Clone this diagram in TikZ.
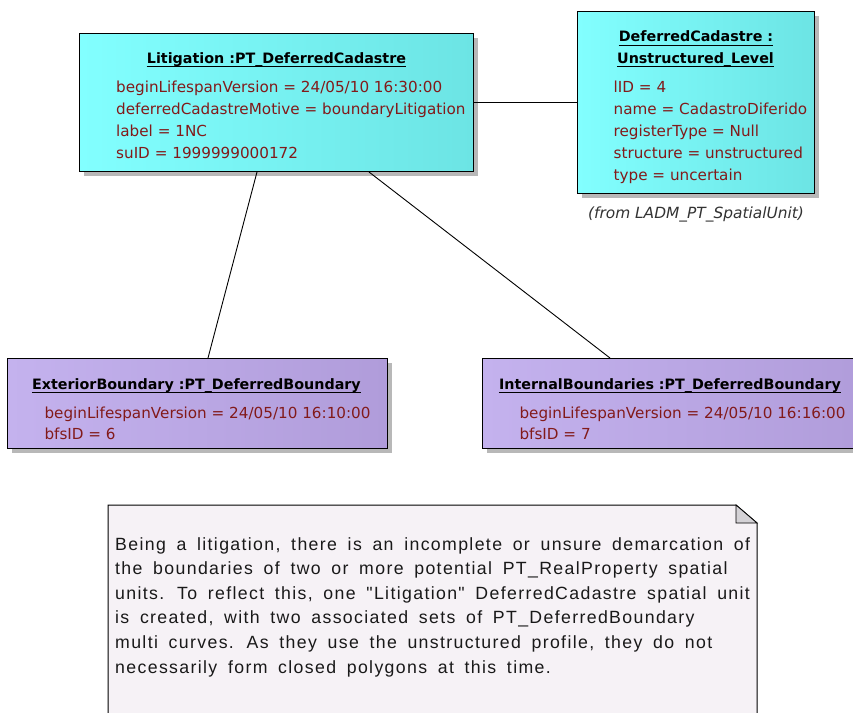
\documentclass[tikz,border=0pt]{standalone}
\usepackage{fontspec}
\usetikzlibrary{shadows}
\newfontfamily\boxfont{DejaVu Sans}
\newfontfamily\notefont[LetterSpace=7.7, WordSpace=1.7]{Liberation Sans}
\definecolor{cyanL}{RGB}{130,255,255}
\definecolor{cyanR}{RGB}{108,228,228}
\definecolor{purL}{RGB}{196,178,238}
\definecolor{purR}{RGB}{176,156,218}
\definecolor{attr}{RGB}{130,26,26}
\definecolor{notefill}{RGB}{246,242,246}
\definecolor{foldfill}{RGB}{212,210,214}
\tikzset{
  x=1pt, y=-1pt,
  umlbox/.style={draw=black, line width=1pt, rectangle, anchor=north west, inner sep=0pt,
    drop shadow={shadow xshift=4pt, shadow yshift=-4pt, fill=black!28, opacity=1}},
  cbox/.style={umlbox, left color=cyanL, right color=cyanR},
  pbox/.style={umlbox, left color=purL, right color=purR},
  ttl/.style={inner sep=0pt, anchor=base, font=\boxfont\bfseries\fontsize{14.3}{16}\selectfont, text=black},
  att/.style={inner sep=0pt, anchor=base west, font=\boxfont\fontsize{15.2}{18}\selectfont, text=attr},
  ntxt/.style={inner sep=0pt, anchor=base west, font=\notefont\fontsize{17.7}{20}\selectfont, text=black!90},
  conn/.style={draw=black, line width=0.9pt},
  uline/.style={draw=black, line width=1pt}
}
\begin{document}
\begin{tikzpicture}
\clip (0,0) rectangle (853,712);
\fill[white] (0,0) rectangle (853,712);
% boxes
\node[cbox, minimum width=394pt, minimum height=138pt] (lit) at (79,33) {};
\node[cbox, minimum width=237pt, minimum height=182pt] (dc) at (577,11) {};
\node[pbox, minimum width=380pt, minimum height=90pt] (ext) at (7,358) {};
\node[pbox, minimum width=388pt, minimum height=90pt] (int) at (482,358) {};
% connectors
\draw[conn] (lit.east) -- (dc.west);
\draw[conn] ([xshift=178pt]lit.south west) -- ([xshift=201pt]ext.north west);
\draw[conn] ([xshift=290pt]lit.south west) -- ([xshift=128pt]int.north west);
% Litigation
\node[ttl] (litT) at (276.5,63) {Litigation :PT\_DeferredCadastre};
\draw[uline] ([yshift=-3.6pt]litT.base west) -- ([yshift=-3.6pt]litT.base east);
\node[att] (litA1) at (116,92.5) {beginLifespanVersion = 24/05/10 16:30:00};
\node[att] (litA2) at (116,114.3) {deferredCadastreMotive = boundaryLitigation};
\node[att] (litA3) at (116,136.2) {label = 1NC};
\node[att] (litA4) at (116,158) {suID = 1999999000172};
% DeferredCadastre
\node[ttl] (dcT1) at (696,41.7) {DeferredCadastre :};
\draw[uline] ([yshift=-3.6pt]dcT1.base west) -- ([yshift=-3.6pt]dcT1.base east);
\node[ttl] (dcT2) at (695.5,63.3) {Unstructured\_Level};
\draw[uline] ([yshift=-3.6pt]dcT2.base west) -- ([yshift=-3.6pt]dcT2.base east);
\node[att] (dcA1) at (613.5,92.3) {lID = 4};
\node[att] (dcA2) at (613.5,114.3) {name = CadastroDiferido};
\node[att] (dcA3) at (613.5,136.3) {registerType = Null};
\node[att] (dcA4) at (613.5,158.3) {structure = unstructured};
\node[att] (dcA5) at (613.5,180) {type = uncertain};
\node[inner sep=0pt, anchor=base, font=\boxfont\itshape\fontsize{15.4}{18}\selectfont, text=black!80] (dcFrom) at (696,218) {(from LADM\_PT\_SpatialUnit)};
% ExteriorBoundary
\node[ttl] (extT) at (196.5,389.3) {ExteriorBoundary :PT\_DeferredBoundary};
\draw[uline] ([yshift=-3.6pt]extT.base west) -- ([yshift=-3.6pt]extT.base east);
\node[att] (extA1) at (44.3,418.3) {beginLifespanVersion = 24/05/10 16:10:00};
\node[att] (extA2) at (44.3,439.5) {bfsID = 6};
% InternalBoundaries
\node[ttl] (intT) at (670,389.3) {InternalBoundaries :PT\_DeferredBoundary};
\draw[uline] ([yshift=-3.6pt]intT.base west) -- ([yshift=-3.6pt]intT.base east);
\node[att] (intA1) at (519.3,418.3) {beginLifespanVersion = 24/05/10 16:16:00};
\node[att] (intA2) at (519.3,439.5) {bfsID = 7};
% note
\draw[line width=1pt, fill=notefill] (108,505) -- (736,505) -- (757,523) -- (757,740) -- (108,740) -- cycle;
\draw[line width=0.8pt, fill=foldfill] (736,505) -- (736,523) -- (757,523) -- cycle;
\node[ntxt] (n1) at (115,550) {Being a litigation, there is an incomplete or unsure demarcation of};
\node[ntxt] (n2) at (115,574.6) {the boundaries of two or more potential PT\_RealProperty spatial};
\node[ntxt] (n3) at (115,599.2) {units. To reflect this, one "Litigation" DeferredCadastre spatial unit};
\node[ntxt] (n4) at (115,623.8) {is created, with two associated sets of PT\_DeferredBoundary};
\node[ntxt] (n5) at (115,648.4) {multi curves. As they use the unstructured profile, they do not};
\node[ntxt] (n6) at (115,673) {necessarily form closed polygons at this time.};
\end{tikzpicture}
\end{document}
